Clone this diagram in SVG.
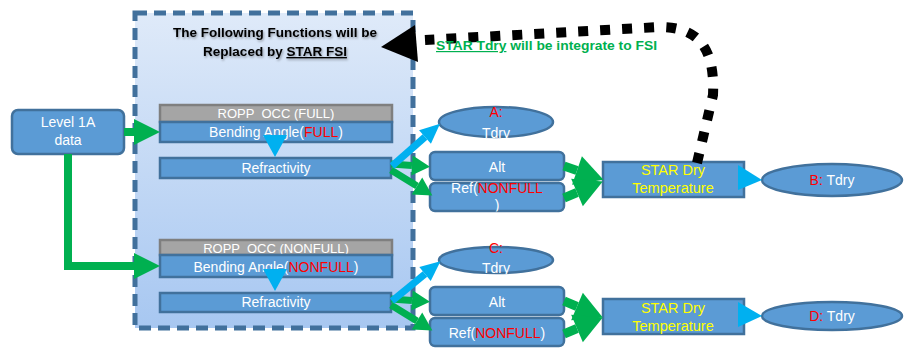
<svg xmlns="http://www.w3.org/2000/svg" width="910" height="348" viewBox="0 0 910 348">
<style>
  text { font-family: "Liberation Sans", Arial, sans-serif; white-space: pre; }
  .box { fill: #5b9bd5; stroke: #41719c; stroke-width: 2.5; }
  .gray { fill: #a5a5a5; stroke: #7f7f7f; stroke-width: 2.5; }
  .lbl { fill: #ffffff; font-size: 14px; text-anchor: middle; }
  .sm { font-size: 13px; }
  .red { fill: #ff0000; }
  .yel { fill: #ffff00; font-size: 14.5px; text-anchor: middle; }
  .g { fill: none; stroke: #00b050; }
  .b { fill: none; stroke: #00b0f0; }
  .bt { fill: #00b0f0; }
  .title { font-size: 13.5px; font-weight: bold; fill: #000; text-anchor: middle; }
</style>
<defs>
  <linearGradient id="frameFill" x1="0" y1="0" x2="0" y2="1">
    <stop offset="0" stop-color="#dfeaf9"/>
    <stop offset="1" stop-color="#a7c7f1"/>
  </linearGradient>
  <filter id="shadow" x="-10%" y="-30%" width="120%" height="160%">
    <feDropShadow dx="1" dy="1.5" stdDeviation="0.8" flood-color="#000" flood-opacity="0.35"/>
  </filter>
  <marker id="gHeadL" markerUnits="userSpaceOnUse" markerWidth="30" markerHeight="30" refX="0" refY="13" orient="auto" overflow="visible">
    <path d="M0,0 L26,13 L0,26 z" fill="#00b050"/>
  </marker>
  <marker id="gHeadS" markerUnits="userSpaceOnUse" markerWidth="22" markerHeight="22" refX="0" refY="10" orient="auto" overflow="visible">
    <path d="M0,0 L18,10 L0,20 z" fill="#00b050"/>
  </marker>
  <marker id="gHeadM" markerUnits="userSpaceOnUse" markerWidth="32" markerHeight="32" refX="0" refY="15" orient="auto" overflow="visible">
    <path d="M0,0 L28,15 L0,30 z" fill="#00b050"/>
  </marker>
  <marker id="bHead" markerUnits="userSpaceOnUse" markerWidth="22" markerHeight="22" refX="0" refY="9" orient="auto" overflow="visible">
    <path d="M0,0 L20,9 L0,18 z" fill="#00b0f0"/>
  </marker>
  <clipPath id="clipA"><rect x="430" y="100" width="130" height="38.5"/></clipPath>
  <clipPath id="clipC"><rect x="430" y="240" width="130" height="34"/></clipPath>
  <clipPath id="clipRef"><rect x="430" y="180" width="136" height="31.5"/></clipPath>
</defs>

<!-- frame -->
<g id="frame">
  <rect x="135" y="13" width="278" height="315" fill="url(#frameFill)" stroke="#41709c" stroke-width="5" stroke-dasharray="12 7"/>
  <g filter="url(#shadow)">
    <text class="title" x="275" y="37">The Following Functions will be</text>
    <text class="title" x="275" y="56">Replaced by <tspan text-decoration="underline">STAR FSI</tspan></text>
  </g>
</g>

<!-- nodes -->
<g id="level1a">
  <rect class="box" x="12" y="110" width="112" height="44" rx="6"/>
  <text class="lbl" x="68" y="127">Level 1A</text>
  <text class="lbl" x="68" y="145">data</text>
</g>

<g id="ropp-full">
  <rect class="gray" x="160" y="105" width="232" height="17"/>
  <text class="lbl sm" x="276" y="118">ROPP  OCC (FULL)</text>
</g>
<g id="bending-full">
  <rect class="box" x="160" y="122" width="232" height="20"/>
  <text class="lbl" x="276" y="137">Bending Angle(<tspan class="red">FULL</tspan>)</text>
</g>
<g id="refr-full">
  <rect class="box" x="160" y="158" width="231" height="20"/>
  <text class="lbl" x="276" y="173">Refractivity</text>
</g>

<g id="ropp-nonfull">
  <rect class="gray" x="160" y="240" width="232" height="15"/>
  <text class="lbl sm" x="276" y="253">ROPP  OCC (NONFULL)</text>
</g>
<g id="bending-nonfull">
  <rect class="box" x="160" y="255" width="232" height="22"/>
  <text class="lbl" x="276" y="272">Bending Angle(<tspan class="red">NONFULL</tspan>)</text>
</g>
<g id="refr-nonfull">
  <rect class="box" x="160" y="293" width="231" height="19"/>
  <text class="lbl" x="276" y="307">Refractivity</text>
</g>

<g id="ell-a">
  <ellipse class="box" cx="496" cy="122" rx="57" ry="15"/>
  <text class="lbl" x="496" y="117" style="fill:#ff0000">A:</text>
  <text class="lbl" x="496" y="138" clip-path="url(#clipA)">Tdry</text>
</g>
<g id="alt-1">
  <rect class="box" x="430" y="152" width="134" height="28" rx="5"/>
  <text class="lbl" x="497" y="172">Alt</text>
</g>
<g id="ref-1">
  <rect class="box" x="430" y="183" width="134" height="28" rx="5"/>
  <g clip-path="url(#clipRef)">
    <text class="lbl" x="497" y="193">Ref(<tspan class="red">NONFULL</tspan></text>
    <text class="lbl" x="497" y="210">)</text>
  </g>
</g>
<g id="star-1">
  <rect class="box" x="603" y="162" width="141" height="35"/>
  <text class="yel" x="673" y="175">STAR Dry</text>
  <text class="yel" x="673" y="193">Temperature</text>
</g>
<g id="ell-b">
  <ellipse class="box" cx="832" cy="180" rx="70" ry="16"/>
  <text class="lbl" x="832" y="185"><tspan class="red">B:</tspan> Tdry</text>
</g>

<g id="ell-c">
  <ellipse class="box" cx="496" cy="260" rx="57" ry="13"/>
  <text class="lbl" x="496" y="253" style="fill:#ff0000">C:</text>
  <text class="lbl" x="496" y="273" clip-path="url(#clipC)">Tdry</text>
</g>
<g id="alt-2">
  <rect class="box" x="430" y="287" width="134" height="28" rx="5"/>
  <text class="lbl" x="497" y="307">Alt</text>
</g>
<g id="ref-2">
  <rect class="box" x="430" y="318" width="134" height="28" rx="5"/>
  <text class="lbl" x="497" y="338">Ref(<tspan class="red">NONFULL</tspan>)</text>
</g>
<g id="star-2">
  <rect class="box" x="603" y="299" width="141" height="35"/>
  <text class="yel" x="673" y="313">STAR Dry</text>
  <text class="yel" x="673" y="331">Temperature</text>
</g>
<g id="ell-d">
  <ellipse class="box" cx="832" cy="316" rx="70" ry="14"/>
  <text class="lbl" x="832" y="321"><tspan class="red">D:</tspan> Tdry</text>
</g>

<!-- connectors -->
<g id="connectors">
  <path class="g" stroke-width="8" d="M124 132 H134" marker-end="url(#gHeadL)"/>
  <path class="g" stroke-width="8" d="M68 154 V266 H134" marker-end="url(#gHeadL)"/>

  <polygon class="bt" points="263,135 287,135 275,157"/>
  <polygon class="bt" points="263,269 287,269 275,291"/>

  <!-- top group -->
  <path class="g" stroke-width="7" d="M391 164 L412 165.5" marker-end="url(#gHeadS)"/>
  <path class="g" stroke-width="7" d="M391 170 L417 186" marker-end="url(#gHeadS)"/>
  <path class="b" stroke-width="7" d="M392 166 L425 137" marker-end="url(#bHead)"/>
  <path class="g" stroke-width="9" d="M564 166 L577 170.5" marker-end="url(#gHeadM)"/>
  <path class="g" stroke-width="9" d="M564 198 L577 192.5" marker-end="url(#gHeadM)"/>
  <polygon class="bt" points="738,165 762,180 738,190"/>

  <!-- bottom group -->
  <path class="g" stroke-width="7" d="M391 299 L412 300.5" marker-end="url(#gHeadS)"/>
  <path class="g" stroke-width="7" d="M391 305 L417 321" marker-end="url(#gHeadS)"/>
  <path class="b" stroke-width="7" d="M392 301 L425 274" marker-end="url(#bHead)"/>
  <path class="g" stroke-width="9" d="M564 301 L577 306.5" marker-end="url(#gHeadM)"/>
  <path class="g" stroke-width="9" d="M564 334 L577 328.5" marker-end="url(#gHeadM)"/>
  <polygon class="bt" points="738,302 762,316 738,327"/>

  <!-- dotted black arrow -->
  <path d="M697 163 L713 95 C715 50 700 27 660 27 L425 40" fill="none" stroke="#000" stroke-width="10" stroke-dasharray="10 12"/>
  <polygon points="381,47 415,25 418,62" fill="#000"/>
</g>

<g id="note">
  <text x="436" y="50" font-size="12" font-weight="bold" fill="#00b050" textLength="221" lengthAdjust="spacingAndGlyphs"><tspan text-decoration="underline">STAR Tdry</tspan> will be integrate to FSI</text>
</g>
</svg>
